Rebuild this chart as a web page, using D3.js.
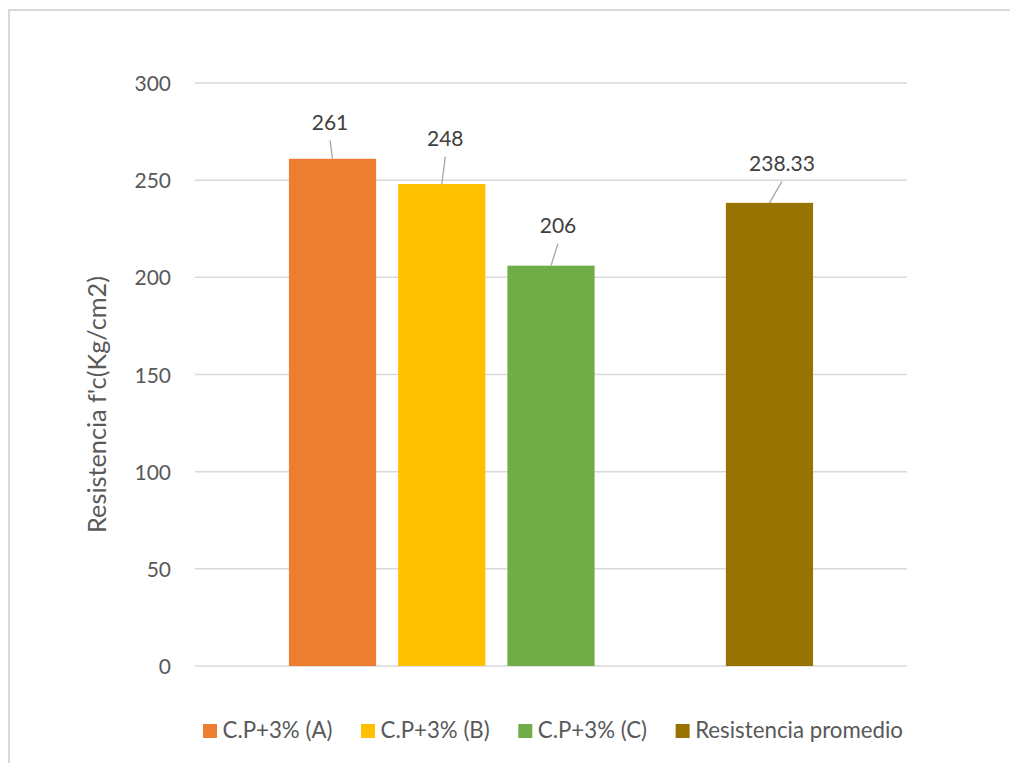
<!DOCTYPE html>
<html>
<head>
<meta charset="utf-8">
<script src="https://cdn.jsdelivr.net/npm/d3@7"></script>
<style>
  html, body { margin: 0; padding: 0; background: #fff; }
  svg { display: block; }
</style>
</head>
<body>
<svg id="chart" width="1010" height="763"></svg>
<script>
// ---- data ----
const seriesNames = ["C.P+3% (A)", "C.P+3% (B)", "C.P+3% (C)", "Resistencia promedio"];
const seriesValues = [261, 248, 206, 238.33];
const valueLabels = ["261", "248", "206", "238.33"];
const seriesColors = ["#ED7D31", "#FFC000", "#70AD47", "#997300"];
// slot order on the x axis (an empty slot sits between C and the average)
const slotKeys = ["C.P+3% (A)", "C.P+3% (B)", "C.P+3% (C)", "_gap", "Resistencia promedio"];
const yTicks = [0, 50, 100, 150, 200, 250, 300];
const yTitle = "Resistencia f'c(Kg/cm2)";

// ---- layout (not data) ----
const labelNudge = [[-2.5, -29], [3.5, -38], [7, -32.5], [12.5, -32]]; // manual label offsets (dx, dy from bar top)

const svg = d3.select("#chart");
const font = "Lato, 'Open Sans', sans-serif";

// chart border
svg.append("rect").attr("x", 9).attr("y", 10).attr("width", 1100).attr("height", 1000)
  .attr("fill", "#fff").attr("stroke", "#d9d9d9").attr("stroke-width", 2);

const plot = { left: 195, right: 907, top: 83, bottom: 666 };

const x = d3.scaleBand().domain(slotKeys).range([plot.left, plot.right])
  .paddingInner(0.2018).paddingOuter(0.86);
const y = d3.scaleLinear().domain([0, 300]).range([plot.bottom, plot.top]);

// gridlines
svg.append("g").selectAll("line").data(yTicks).join("line")
  .attr("x1", plot.left).attr("x2", plot.right)
  .attr("y1", d => y(d)).attr("y2", d => y(d))
  .attr("stroke", "#d9d9d9").attr("stroke-width", 1.5);

// y axis labels
const yAxis = d3.axisLeft(y).tickValues(yTicks).tickSize(0).tickPadding(24).tickFormat(d3.format("d"));
const gy = svg.append("g").attr("transform", `translate(${plot.left},0)`).call(yAxis);
gy.select(".domain").remove();
gy.selectAll("text").attr("font-family", font).attr("font-size", 21).attr("fill", "#595959").attr("dy", "0.36em");

// bars
const bars = seriesNames.map((n, i) => ({ name: n, value: seriesValues[i], label: valueLabels[i], color: seriesColors[i], nudge: labelNudge[i] }));
svg.append("g").selectAll("rect").data(bars).join("rect")
  .attr("x", d => x(d.name)).attr("width", x.bandwidth())
  .attr("y", d => y(d.value)).attr("height", d => y(0) - y(d.value))
  .attr("fill", d => d.color);

// leader lines + labels
const lg = svg.append("g");
bars.forEach(d => {
  const cx = x(d.name) + x.bandwidth() / 2;
  const top = y(d.value);
  const lx = cx + d.nudge[0];
  const ly = top + d.nudge[1];
  lg.append("line").attr("x1", lx).attr("y1", ly + 10.5).attr("x2", cx).attr("y2", top)
    .attr("stroke", "#a6a6a6").attr("stroke-width", 1.3);
  lg.append("text").attr("x", lx).attr("y", ly).attr("text-anchor", "middle")
    .attr("font-family", font).attr("font-size", 21).attr("fill", "#404040").text(d.label);
});

// y title (sized to match the reference's span)
const title = svg.append("text").attr("transform", "translate(106,404.5) rotate(-90)")
  .attr("text-anchor", "middle").attr("font-family", font).attr("font-size", 21)
  .attr("fill", "#595959").text(yTitle);
const tl = title.node().getComputedTextLength();
title.attr("font-size", 21 * 257 / tl);

// legend
const probe = svg.append("text").attr("font-family", font).attr("font-size", 21).text(seriesNames[3]);
const legFont = 21 * 208 / probe.node().getComputedTextLength();
probe.remove();
const leg = svg.append("g");
const items = [];
bars.forEach((d, i) => {
  const g = leg.append("g");
  g.append("rect").attr("x", 0).attr("y", -14).attr("width", 14).attr("height", 14).attr("fill", d.color);
  const t = g.append("text").attr("x", 19.5).attr("y", 0).attr("font-family", font).attr("font-size", legFont)
    .attr("fill", "#595959").text(d.name);
  const w = 19.5 + t.node().getComputedTextLength();
  items.push({ g, w });
});
const legLeft = 203, legRight = 903;
const gap = (legRight - legLeft - d3.sum(items, d => d.w)) / (items.length - 1);
let start = legLeft;
items.forEach(it => {
  it.g.attr("transform", `translate(${start},738)`);
  start += it.w + gap;
});
</script>
</body>
</html>
